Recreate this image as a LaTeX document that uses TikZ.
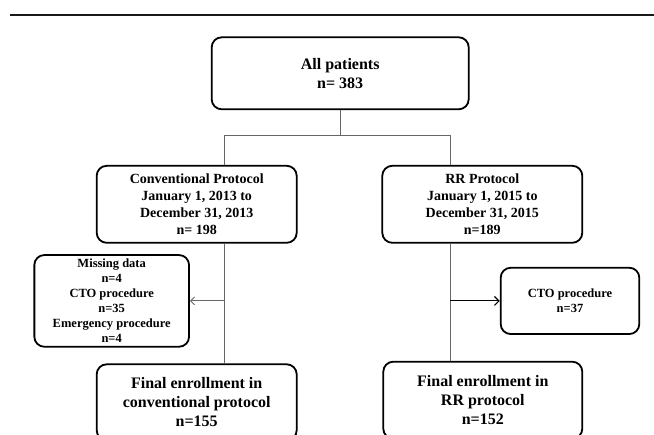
\documentclass[tikz,border=0pt]{standalone}
\usepackage{fontspec}
\setmainfont{Liberation Serif}
\usetikzlibrary{calc, arrows.meta}

\begin{document}
\begin{tikzpicture}[x = 1pt, y = -1pt,
		box/.style = {draw = black, line width = 1.8pt, rounded corners = 10pt, align = center, inner sep = 0pt},
		big/.style = {font = \bfseries\fontsize{16}{19}\selectfont},
		mid/.style = {font = \bfseries\fontsize{14}{17}\selectfont},
		small/.style = {font = \bfseries\fontsize{12.5}{15}\selectfont},
		link/.style = {draw = black!60, line width = 0.9pt}]
		\clip (0,0) rectangle (654,435);
		\def\lx{224.5};
		\def\rx{450};
		\def\split{135};
		
		\draw [line width = 2.3pt, black!90] (10,14.8) -- (654,14.8);
		
		%boxes
		\node [box, big, minimum width = 257pt, minimum height = 72pt] (all patients) at (340.2,73.3) {All patients\\n= 383};
		
		\node [box, mid, minimum width = 200pt, minimum height = 77pt] (conventional) at (196.7,204.3) {Conventional Protocol\\January 1, 2013 to\\December 31, 2013\\n= 198};
		
		\node [box, mid, minimum width = 200pt, minimum height = 77pt] (rr) at (482.3,204.3) {RR Protocol\\January 1, 2015 to\\December 31, 2015\\n=189};
		
		\node [box, small, minimum width = 154.7pt, minimum height = 91.7pt] (excluded conventional) at (111.7,300.9) {Missing data\\n=4\\CTO procedure\\n=35\\Emergency procedure\\n=4};
		
		\node [box, small, minimum width = 138.6pt, minimum height = 66.3pt] (excluded rr) at (570,300.9) {CTO procedure\\n=37};
		
		\node [box, big, minimum width = 200pt, minimum height = 76pt] (final conventional) at (196.7,402.3) {Final enrollment in\\conventional protocol\\n=155};
		
		\node [box, big, minimum width = 199pt, minimum height = 77pt] (final rr) at (482.8,400.2) {Final enrollment in\\RR protocol\\n=152};
		
		%connectors
		\coordinate (split) at (340.2,\split);
		\coordinate (split left) at (\lx,\split);
		\coordinate (split right) at (\rx,\split);
		
		\draw [link] (all patients) -- (split);
		\draw [link] (split left) -- (split right);
		\draw [link] (split left) -- (split left |- conventional.north);
		\draw [link] (split right) -- (split right |- rr.north);
		
		\draw [link] (conventional.south -| split left) -- (final conventional.north -| split left);
		\draw [link] (rr.south -| split right) -- (final rr.north -| split right);
		
		\draw [link, -{Straight Barb[length = 4pt, width = 8pt]}] (excluded conventional.east -| split left) -- (excluded conventional.east);
		\draw [line width = 1.2pt, -{Straight Barb[length = 4.5pt, width = 9pt]}] (excluded rr.west -| split right) -- (excluded rr.west);
	\end{tikzpicture}
\end{document}
